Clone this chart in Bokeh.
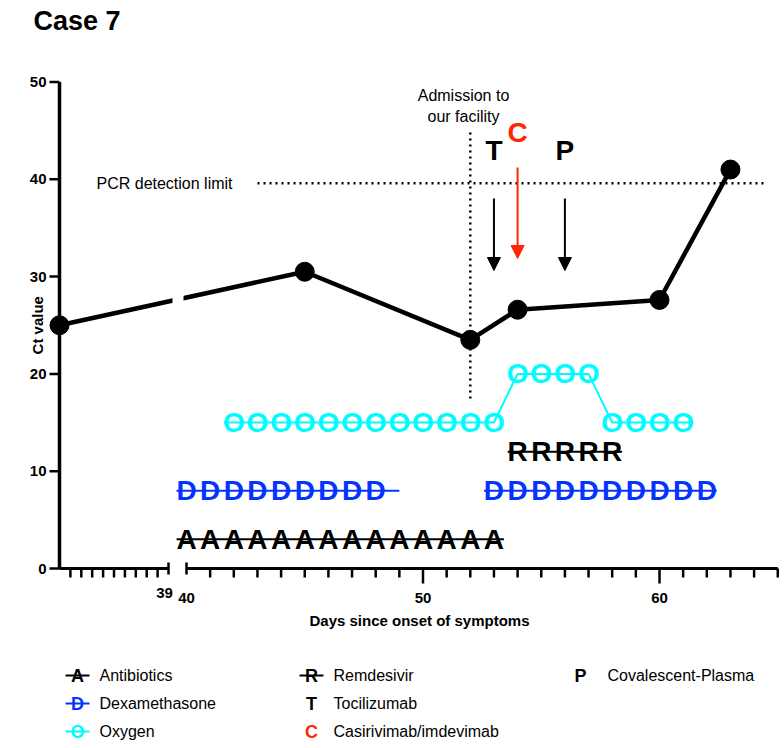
import numpy as np
from bokeh.plotting import figure
from bokeh.models import ColumnDataSource, Range1d, CustomJSTransform, Arrow, NormalHead
from bokeh.transform import transform
from bokeh.core.properties import value
from bokeh.embed import file_html
from bokeh.resources import INLINE

# ---------------- data ----------------
ct_days = [34, 45, 52, 54, 60, 63]
ct_values = [25.0, 30.5, 23.5, 26.6, 27.6, 41.0]

antibiotics_days = list(range(40, 54))
antibiotics_level = 3

dexa_days_1 = list(range(40, 49))
dexa_line_end_1 = 49
dexa_days_2 = list(range(53, 63))
dexa_level = 8

oxygen_days = list(range(42, 62))
oxygen_levels = [15] * 12 + [20] * 4 + [15] * 4

remdesivir_days = list(range(54, 59))
remdesivir_level = 12

tocilizumab_day = 53
casirivimab_day = 54
plasma_day = 56
admission_day = 52
pcr_limit = 39.6

y_ticks = [0, 10, 20, 30, 40, 50]
x_left_domain = [34, 39]
x_right_domain = [40, 65]
x_major_labels = ["39", "40", "50", "60"]
x_major_days = [39, 40, 50, 60]

legend_col1 = [("A", "Antibiotics"), ("D", "Dexamethasone"), ("O", "Oxygen")]
legend_col2 = [("R", "Remdesivir"), ("T", "Tocilizumab"), ("C", "Casirivimab/imdevimab")]
legend_col3 = [("P", "Covalescent-Plasma")]

# ---------------- styles / layout ----------------
BLACK = "#000000"
BLUE = "#0433FF"
CYAN = "#00FCFF"
RED = "#FF2600"
FONT = value("Liberation Sans")

W, H = 784, 748
PX_DAY = 23.65      # pixels per day (right segment)
X60 = 659           # page px of day 60
PX_CT = 9.73        # pixels per Ct unit
Y0 = 568            # page px of Ct 0


def vx(px):
    return 60 + (px - X60) / PX_DAY


def vy(py):
    return (Y0 - py) / PX_CT


LEFT_V0 = vx(59)    # y-axis position
LEFT_V1 = vx(168)   # end of left axis segment (day 39)

p = figure(width=W, height=H,
           x_range=Range1d(vx(0), vx(W)),
           y_range=Range1d(vy(H), vy(0)),
           x_axis_location=None, y_axis_location=None,
           toolbar_location=None, output_backend="svg",
           min_border=0)
p.grid.visible = False
p.outline_line_color = None

brk = CustomJSTransform(
    args=dict(d0=x_left_domain[0], d1=x_left_domain[1], v0=LEFT_V0, v1=LEFT_V1),
    func="return x <= d1 ? v0 + (x - d0) * (v1 - v0) / (d1 - d0) : x;",
    v_func="""
const out = new Array(xs.length);
for (let i = 0; i < xs.length; i++) {
  const x = xs[i];
  out[i] = x <= d1 ? v0 + (x - d0) * (v1 - v0) / (d1 - d0) : x;
}
return out;
""")

# ---------------- axes ----------------
# y axis
p.segment(x0=[LEFT_V0], y0=[0], x1=[LEFT_V0], y1=[y_ticks[-1]], line_width=3.5, line_color=BLACK)
p.segment(x0=[LEFT_V0 - 10 / PX_DAY] * len(y_ticks), y0=y_ticks,
          x1=[LEFT_V0] * len(y_ticks), y1=y_ticks, line_width=2.5, line_color=BLACK)
p.text(x=[LEFT_V0] * len(y_ticks), y=y_ticks, text=[str(t) for t in y_ticks],
       x_offset=-13, text_align="right", text_baseline="middle",
       text_font=FONT, text_font_style="bold", text_font_size="15px", text_color=BLACK)
p.text(x=[vx(37)], y=[25], text=["Ct value"], angle=np.pi / 2,
       text_align="center", text_baseline="middle",
       text_font=FONT, text_font_style="bold", text_font_size="15px", text_color=BLACK)

# x axis segments (broken)
p.segment(x0=transform("a", brk), y0=0, x1=transform("b", brk), y1=0,
          source=ColumnDataSource(dict(a=[x_left_domain[0], x_right_domain[0]],
                                       b=[x_left_domain[1], x_right_domain[1]])),
          line_width=3, line_color=BLACK)
# caps at break
cap = 6 / PX_CT
p.segment(x0=transform("d", brk), y0=cap, x1=transform("d", brk), y1=-cap,
          source=ColumnDataSource(dict(d=[x_left_domain[1], x_right_domain[0]])),
          line_width=2.5, line_color=BLACK)
# minor ticks
minor = list(np.arange(34.5, 39, 0.5)) + [d for d in range(41, 66) if d not in (50, 60)]
p.segment(x0=transform("d", brk), y0=0, x1=transform("d", brk), y1=-9 / PX_CT,
          source=ColumnDataSource(dict(d=minor)), line_width=2.5, line_color=BLACK)
# major ticks
p.segment(x0=[50, 60], y0=0, x1=[50, 60], y1=-15 / PX_CT, line_width=2.5, line_color=BLACK)
p.text(x=transform("d", brk), y=0, text="t", x_offset="xo", y_offset="yo",
       source=ColumnDataSource(dict(d=x_major_days, t=x_major_labels,
                                    xo=[-4, 0, 0, 0], yo=[24, 29, 29, 29])),
       text_align="center", text_baseline="middle",
       text_font=FONT, text_font_style="bold", text_font_size="15px", text_color=BLACK)
p.text(x=[vx(419)], y=[0], text=["Days since onset of symptoms"], y_offset=52,
       text_align="center", text_baseline="middle",
       text_font=FONT, text_font_style="bold", text_font_size="15px", text_color=BLACK)

# title
p.text(x=[vx(33)], y=[vy(20)], text=["Case 7"], text_align="left", text_baseline="middle",
       text_font=FONT, text_font_style="bold", text_font_size="27px", text_color=BLACK)

# ---------------- reference lines ----------------
p.line(x=[vx(257), vx(763)], y=[pcr_limit, pcr_limit], line_width=2.5,
       line_dash="2 4", line_color=BLACK)
p.text(x=[vx(96)], y=[pcr_limit], text=["PCR detection limit"], text_align="left",
       text_baseline="middle", text_font=FONT, text_font_size="16px", text_color=BLACK)
p.line(x=[admission_day, admission_day], y=[vy(398), vy(128)], line_width=2.5,
       line_dash="2 4", line_color=BLACK)
p.text(x=[vx(463)] * 2, y=[vy(95), vy(116)], text=["Admission to", "our facility"],
       text_align="center", text_baseline="middle", text_font=FONT,
       text_font_size="16px", text_color=BLACK)

# ---------------- Ct curve ----------------
ct_src = ColumnDataSource(dict(day=ct_days, ct=ct_values))
p.line(x=transform("day", brk), y="ct", source=ct_src, line_width=4.5, line_color=BLACK)
# gap of the broken axis
p.quad(left=[vx(172)], right=[vx(183)], bottom=[vy(312)], top=[vy(288)],
       fill_color="white", line_color=None)
p.scatter(x=transform("day", brk), y="ct", source=ct_src, size=19,
          fill_color=BLACK, line_color=BLACK)

# ---------------- treatment rows ----------------
LET = "28px"
EXT = 0.42


def letter_row(days, levels, letter, color, size=LET):
    p.text(x=days, y=levels, text=[letter] * len(days), text_align="center",
           text_baseline="middle", text_font=FONT,
           text_font_style="bold", text_font_size=size, text_color=color)


# antibiotics
p.line(x=[antibiotics_days[0] - EXT, antibiotics_days[-1] + EXT],
       y=[antibiotics_level] * 2, line_width=2, line_color=BLACK)
letter_row(antibiotics_days, [antibiotics_level] * len(antibiotics_days), "A", BLACK)

# dexamethasone
p.line(x=[dexa_days_1[0] - EXT, dexa_line_end_1], y=[dexa_level] * 2,
       line_width=2, line_color=BLUE)
p.line(x=[dexa_days_2[0] - EXT, dexa_days_2[-1] + EXT], y=[dexa_level] * 2,
       line_width=2, line_color=BLUE)
letter_row(dexa_days_1, [dexa_level] * len(dexa_days_1), "D", BLUE)
letter_row(dexa_days_2, [dexa_level] * len(dexa_days_2), "D", BLUE)

# oxygen
ox_x = [oxygen_days[0] - EXT] + oxygen_days + [oxygen_days[-1] + EXT]
ox_y = [oxygen_levels[0]] + oxygen_levels + [oxygen_levels[-1]]
p.line(x=ox_x, y=ox_y, line_width=2, line_color=CYAN)
letter_row(oxygen_days, oxygen_levels, "O", CYAN)

# remdesivir
p.line(x=[remdesivir_days[0] - EXT, remdesivir_days[-1] + EXT],
       y=[remdesivir_level] * 2, line_width=2, line_color=BLACK)
letter_row(remdesivir_days, [remdesivir_level] * len(remdesivir_days), "R", BLACK)

# ---------------- single-dose treatments ----------------
for day, color, y0, y1, ly, letter in [
        (tocilizumab_day, BLACK, vy(198), vy(270), vy(150), "T"),
        (casirivimab_day, RED, vy(167), vy(258), vy(132), "C"),
        (plasma_day, BLACK, vy(198), vy(270), vy(150), "P")]:
    p.add_layout(Arrow(x_start=day, y_start=y0, x_end=day, y_end=y1,
                       line_width=2, line_color=color,
                       end=NormalHead(size=13, fill_color=color, line_color=color)))
    letter_row([day], [ly], letter, color)

# ---------------- legend ----------------
LEG_Y = [vy(675), vy(703), vy(731)]


def legend_entry(cx, tx, y, letter, label, color, with_line):
    if with_line:
        p.line(x=[vx(cx - 12), vx(cx + 12)], y=[y, y], line_width=2, line_color=color)
    letter_row([vx(cx)], [y], letter, color, size="18px")
    p.text(x=[vx(tx)], y=[y], text=[label], text_align="left", text_baseline="middle",
           text_font=FONT, text_font_size="16px", text_color=BLACK)


col1_colors = [BLACK, BLUE, CYAN]
for (letter, label), y, c in zip(legend_col1, LEG_Y, col1_colors):
    legend_entry(77, 99, y, letter, label, c, True)
col2_colors = [BLACK, BLACK, RED]
col2_lines = [True, False, False]
for (letter, label), y, c, ln in zip(legend_col2, LEG_Y, col2_colors, col2_lines):
    legend_entry(311, 333, y, letter, label, c, ln)
for (letter, label), y in zip(legend_col3, LEG_Y):
    legend_entry(580, 607, y, letter, label, BLACK, False)

open("out.html", "w").write(file_html(p, INLINE))
